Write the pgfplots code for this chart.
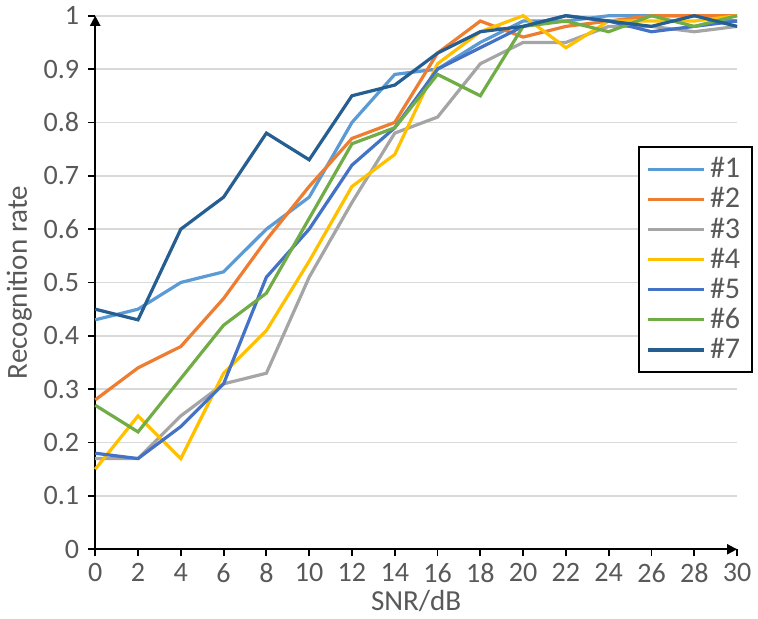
\documentclass[border=0pt]{standalone}
\usepackage{pgfplots}
\pgfplotsset{compat=1.18}
\usepackage{fontspec}
\setmainfont{Carlito}
\usetikzlibrary{arrows.meta}
\definecolor{cA}{HTML}{5B9BD5}
\definecolor{cB}{HTML}{ED7D31}
\definecolor{cC}{HTML}{A5A5A5}
\definecolor{cD}{HTML}{FFC000}
\definecolor{cE}{HTML}{4472C4}
\definecolor{cF}{HTML}{70AD47}
\definecolor{cG}{HTML}{255E91}
\definecolor{txt}{HTML}{595959}
\definecolor{grd}{HTML}{D9D9D9}
\begin{document}
\begin{tikzpicture}
\begin{axis}[
  scale only axis, width=320pt, height=266pt,
  xmin=0, xmax=30, ymin=0, ymax=1,
  xtick={0,2,...,30}, ytick={0,0.1,...,1.0},
  yticklabels={0,0.1,0.2,0.3,0.4,0.5,0.6,0.7,0.8,0.9,1},
  axis lines=left,
  axis line style={line width=1pt,-{Triangle[length=5pt,width=5pt]}},
  ymajorgrids, grid style={grd, line width=0.9pt},
  tick style={black, line width=0.9pt},
  tick align=outside, major tick length=3.5pt,
  /pgf/number format/assume math mode=true,
  ticklabel style={font=\fontsize{14}{16}\selectfont, text=txt},
  xticklabel style={yshift=0pt},
  yticklabel style={xshift=-1pt},
  label style={font=\fontsize{14.5}{16}\selectfont, text=txt},
  xlabel={SNR/dB}, ylabel={Recognition rate},
  xlabel style={yshift=3pt},
  ylabel style={yshift=-1pt},
  clip=false,
  every axis plot/.append style={line width=1.6pt, no markers},
  legend style={at={(0.845,0.755)}, anchor=north west, draw=black, line width=1pt,
    font=\fontsize{15}{16}\selectfont, text=txt, row sep=-0.6pt,
    inner xsep=4pt, inner ysep=3pt},
  legend cell align=left,
  legend image code/.code={\draw[#1, line width=1.6pt] (0pt,0pt) -- (28pt,0pt);},
]
\addplot[cA] coordinates {(0,0.43)(2,0.45)(4,0.50)(6,0.52)(8,0.60)(10,0.66)(12,0.80)(14,0.89)(16,0.90)(18,0.95)(20,0.99)(22,0.99)(24,1.00)(26,1.00)(28,1.00)(30,0.99)};
\addlegendentry{\#1}
\addplot[cB] coordinates {(0,0.28)(2,0.34)(4,0.38)(6,0.47)(8,0.58)(10,0.68)(12,0.77)(14,0.80)(16,0.93)(18,0.99)(20,0.96)(22,0.98)(24,0.99)(26,1.00)(28,1.00)(30,1.00)};
\addlegendentry{\#2}
\addplot[cC] coordinates {(0,0.17)(2,0.17)(4,0.25)(6,0.31)(8,0.33)(10,0.51)(12,0.65)(14,0.78)(16,0.81)(18,0.91)(20,0.95)(22,0.95)(24,0.98)(26,0.98)(28,0.97)(30,0.98)};
\addlegendentry{\#3}
\addplot[cD] coordinates {(0,0.15)(2,0.25)(4,0.17)(6,0.33)(8,0.41)(10,0.54)(12,0.68)(14,0.74)(16,0.91)(18,0.97)(20,1.00)(22,0.94)(24,0.99)(26,0.99)(28,0.99)(30,1.00)};
\addlegendentry{\#4}
\addplot[cE] coordinates {(0,0.18)(2,0.17)(4,0.23)(6,0.31)(8,0.51)(10,0.60)(12,0.72)(14,0.79)(16,0.90)(18,0.94)(20,0.98)(22,1.00)(24,0.99)(26,0.97)(28,0.98)(30,0.99)};
\addlegendentry{\#5}
\addplot[cF] coordinates {(0,0.27)(2,0.22)(4,0.32)(6,0.42)(8,0.48)(10,0.62)(12,0.76)(14,0.79)(16,0.89)(18,0.85)(20,0.98)(22,0.99)(24,0.97)(26,1.00)(28,0.98)(30,1.00)};
\addlegendentry{\#6}
\addplot[cG] coordinates {(0,0.45)(2,0.43)(4,0.60)(6,0.66)(8,0.78)(10,0.73)(12,0.85)(14,0.87)(16,0.93)(18,0.97)(20,0.98)(22,1.00)(24,0.99)(26,0.98)(28,1.00)(30,0.98)};
\addlegendentry{\#7}
\end{axis}
\end{tikzpicture}
\end{document}
